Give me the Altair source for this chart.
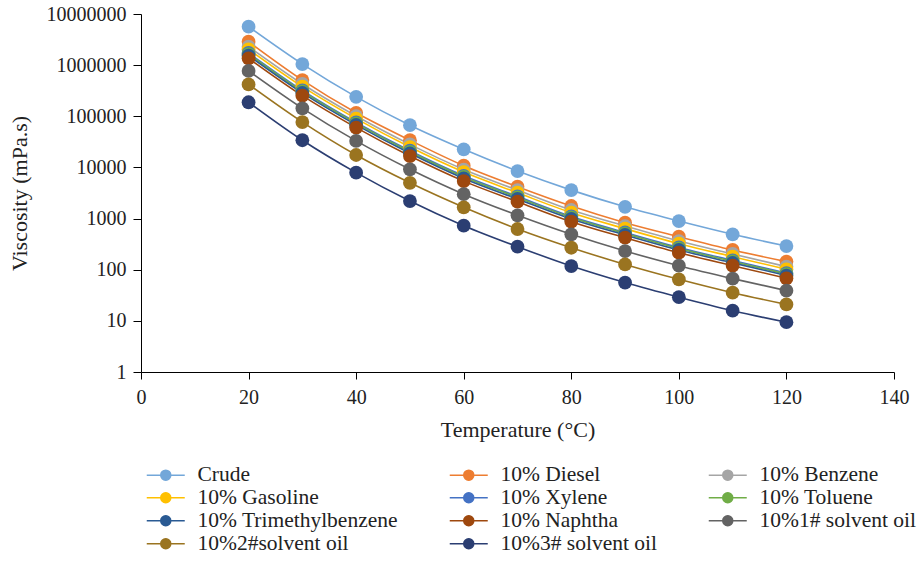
import altair as alt
import pandas as pd

# Temperatures (°C) at which viscosity was measured
temperatures = [20, 30, 40, 50, 60, 70, 80, 90, 100, 110, 120]

# Series names, in legend order
series = [
    "Crude", "10% Diesel", "10% Benzene",
    "10% Gasoline", "10% Xylene", "10% Toluene",
    "10% Trimethylbenzene", "10% Naphtha", "10%1# solvent oil",
    "10%2#solvent oil", "10%3# solvent oil",
]

colors = [
    "#73A7D9", "#ED7D31", "#A5A5A5",
    "#FFC000", "#4472C4", "#70AD47",
    "#2A5A93", "#9E480E", "#636363",
    "#9A7420", "#2B3E72",
]

# Viscosity (mPa.s) per series
crude = [5650000, 1050000, 240000, 67000, 22600, 8500, 3600, 1700, 895, 492, 290]
diesel = [2870000, 510000, 117000, 34000, 10800, 4200, 1760, 830, 442, 243, 144]
benzene = [2300000, 428000, 101000, 28200, 9100, 3600, 1470, 715, 363, 203, 115]
gasoline = [2040000, 380000, 90000, 25000, 8100, 3200, 1300, 635, 322, 180, 102]
xylene = [1730000, 321000, 76000, 21200, 6860, 2720, 1100, 537, 273, 152, 86]
toluene = [1650000, 306000, 72600, 20200, 6530, 2590, 1050, 512, 260, 145, 82]
trimethylbenzene = [1540000, 286000, 67800, 18900, 6100, 2420, 983, 478, 243, 136, 77]
naphtha = [1360000, 253000, 60000, 16700, 5400, 2140, 870, 423, 215, 120, 68]
solvent1 = [770000, 143000, 33000, 9200, 3000, 1160, 492, 232, 120, 67, 39]
solvent2 = [420000, 77000, 17500, 5000, 1660, 625, 269, 127, 65, 35.5, 21]
solvent3 = [188000, 34000, 7900, 2200, 725, 282, 118, 56, 29, 15.8, 9.4]

values = [crude, diesel, benzene, gasoline, xylene, toluene,
          trimethylbenzene, naphtha, solvent1, solvent2, solvent3]

rows = []
for idx, (name, vals) in enumerate(zip(series, values)):
    for t, v in zip(temperatures, vals):
        rows.append({"series": name, "order": idx, "temperature": t, "viscosity": v})
df = pd.DataFrame(rows)

FONT = "Liberation Serif"

# Legend glyph: short line with a filled dot in the middle
legend_symbol = "M-3.8,0L3.8,0M1,0A1,1,0,1,1,-1,0A1,1,0,1,1,1,0Z"

color_scale = alt.Scale(domain=series, range=colors)

legend = alt.Legend(
    title=None,
    orient="none",
    direction="horizontal",
    legendX=14,
    legendY=450,
    columns=3,
    columnPadding=48,
    rowPadding=0,
    symbolType=legend_symbol,
    symbolSize=100,
    symbolStrokeWidth=1.5,
    labelFontSize=21.5,
    labelFont=FONT,
    labelColor="#222222",
    labelOffset=21,
    labelLimit=400,
    gridAlign="each",
    padding=0,
)

color_enc = alt.Color("series:N", scale=color_scale, sort=series, legend=legend)

x_enc = alt.X(
    "temperature:Q",
    scale=alt.Scale(domain=[0, 140], nice=False),
    axis=alt.Axis(
        values=[0, 20, 40, 60, 80, 100, 120, 140],
        title="Temperature (°C)",
        grid=False,
        domainColor="black",
        tickColor="black",
        tickSize=7,
        labelPadding=8,
        labelFlush=False,
        titlePadding=12,
    ),
)
y_enc = alt.Y(
    "viscosity:Q",
    scale=alt.Scale(type="log", domain=[1, 10000000], nice=False),
    axis=alt.Axis(
        values=[1, 10, 100, 1000, 10000, 100000, 1000000, 10000000],
        format="d",
        title="Viscosity (mPa.s)",
        grid=False,
        domainColor="black",
        tickColor="black",
        tickSize=8,
        labelPadding=7,
        labelFlush=False,
        titlePadding=15,
    ),
)

base = alt.Chart(df)

lines = base.mark_line(strokeWidth=1.6, interpolate="monotone").encode(
    x=x_enc,
    y=y_enc,
    color=color_enc,
    detail="series:N",
    order=alt.Order("temperature:Q"),
)

points = base.mark_point(filled=True, opacity=1, size=190, shape="circle").encode(
    x="temperature:Q",
    y="viscosity:Q",
    color=color_enc,
    order=alt.Order("order:Q"),
)

chart = (
    alt.layer(lines, points)
    .properties(
        width=753,
        height=358,
        autosize=alt.AutoSizeParams(type="none"),
        padding={"left": 141, "top": 14, "right": 23, "bottom": 189},
        background="white",
    )
    .configure_view(stroke=None)
    .configure_axis(
        labelFont=FONT,
        titleFont=FONT,
        labelFontSize=20,
        titleFontSize=22,
        titleFontWeight="normal",
        labelColor="#222222",
        titleColor="#222222",
    )
)

chart.save("out.html", embed_options={"renderer": "svg", "actions": False})
